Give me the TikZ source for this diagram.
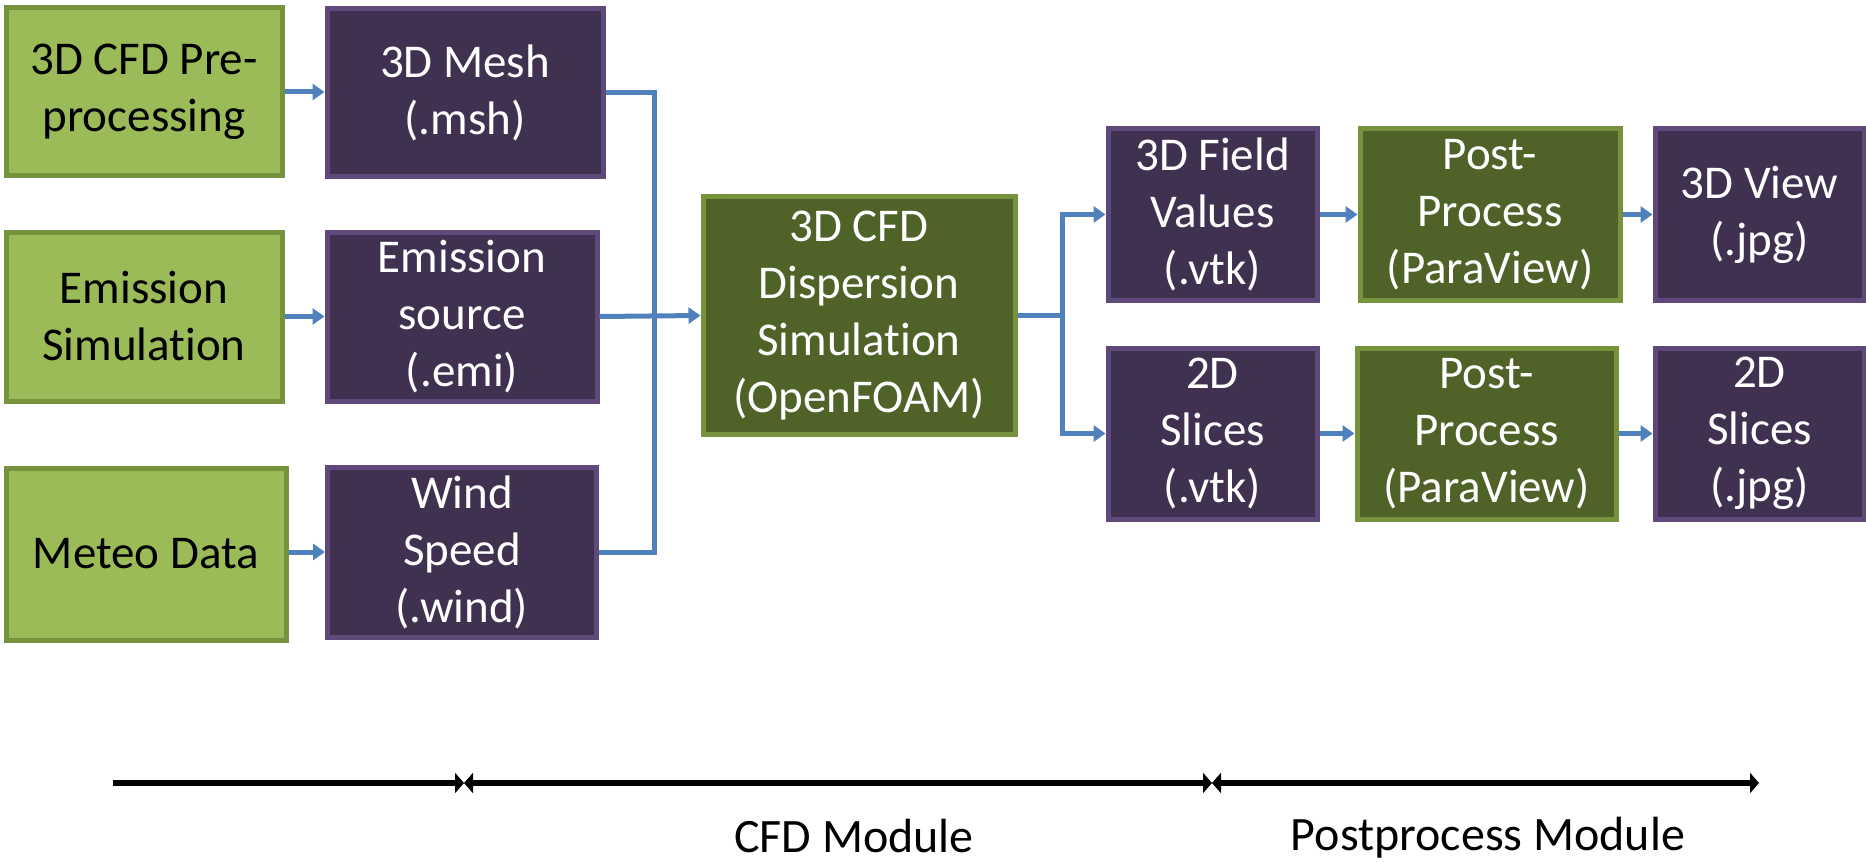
\documentclass[tikz,border=0pt]{standalone}
\usepackage{fontspec}
\setmainfont[Ligatures={NoCommon}]{Carlito}
\usetikzlibrary{arrows.meta}
\definecolor{lgfill}{HTML}{9BBB59}
\definecolor{lgdraw}{HTML}{76923C}
\definecolor{dgfill}{HTML}{4F6228}
\definecolor{dgdraw}{HTML}{76923C}
\definecolor{pufill}{HTML}{403151}
\definecolor{pudraw}{HTML}{5F497A}
\definecolor{flow}{HTML}{4F81BD}
\tikzset{
  box/.style={rectangle, line width=2.5pt, align=center, inner sep=0pt,
    font=\fontsize{23.5}{28.5}\selectfont},
  srcbox/.style={box, fill=lgfill, draw=lgdraw, text=black},
  procbox/.style={box, fill=dgfill, draw=dgdraw, text=white},
  filebox/.style={box, fill=pufill, draw=pudraw, text=white},
  flowline/.style={draw=flow, line width=2.5pt},
  flowarrow/.style={flowline, -{Triangle[length=6pt,width=8pt]}},
  timeline/.style={draw=black, line width=3pt},
  tltip/.tip={Triangle[length=4.5pt,width=10pt]},
  modlabel/.style={font=\fontsize{24}{29}\selectfont, text=black}
}
\begin{document}
\begin{tikzpicture}[x=0.5pt,y=-0.5pt]
\useasboundingbox (0,0) rectangle (1866,861);
% sources
\node[srcbox, minimum width=138pt, minimum height=84pt] (pre) at (144,92) {3D CFD Pre-\\processing};
\node[srcbox, minimum width=138pt, minimum height=84.5pt] (emsim) at (144,316.5) {Emission\\Simulation};
\node[srcbox, minimum width=140pt, minimum height=86pt] (meteo) at (146,554) {Meteo Data};
% files
\node[filebox, minimum width=138pt, minimum height=84pt] (mesh) at (465,93) {3D Mesh\\(.msh)};
\node[filebox, minimum width=135pt, minimum height=84.5pt] (emsrc) at (462,316.5) {Emission\\source\\(.emi)};
\node[filebox, minimum width=134.5pt, minimum height=85pt] (wind) at (462,552) {Wind\\Speed\\(.wind)};
% CFD
\node[procbox, minimum width=156pt, minimum height=118.5pt] (cfd) at (859,315.5) {3D CFD\\Dispersion\\Simulation\\(OpenFOAM)};
% outputs
\node[filebox, minimum width=104.5pt, minimum height=85.5pt] (field) at (1212.5,214.5) {3D Field\\Values\\(.vtk)};
\node[procbox, minimum width=130pt, minimum height=85.5pt] (posta) at (1490,214.5) {Post-\\Process\\(ParaView)};
\node[filebox, minimum width=104.5pt, minimum height=85.5pt] (view) at (1759.5,214.5) {3D View\\(.jpg)};
\node[filebox, minimum width=104.5pt, minimum height=85.5pt] (slice) at (1212.5,433.5) {2D\\Slices\\(.vtk)};
\node[procbox, minimum width=129.5pt, minimum height=85.5pt] (postb) at (1486.5,433.5) {Post-\\Process\\(ParaView)};
\node[filebox, minimum width=104.5pt, minimum height=85.5pt] (slicejpg) at (1759.5,433.5) {2D\\Slices\\(.jpg)};
% connectors
\draw[flowarrow] (pre.east) -- (mesh.west |- pre.east);
\draw[flowarrow] (emsim.east) -- (emsrc.west |- emsim.east);
\draw[flowarrow] (meteo.east |- wind.west) -- (wind.west);
\coordinate (join) at (654,316.5);
\draw[flowline] (mesh.east) -| (join) |- (wind.east);
\draw[flowarrow] (emsrc.east) -- (cfd.west);
\coordinate (split) at (1062,315.5);
\draw[flowline] (cfd.east) -- (split);
\draw[flowarrow] (split) |- (field.west);
\draw[flowarrow] (split) |- (slice.west);
\draw[flowarrow] (field.east) -- (posta.west);
\draw[flowarrow] (posta.east) -- (view.west);
\draw[flowarrow] (slice.east) -- (postb.west);
\draw[flowarrow] (postb.east) -- (slicejpg.west);
% timeline
\coordinate (t0) at (113,783);
\coordinate (t1) at (464,783);
\coordinate (t2) at (1212,783);
\coordinate (t3) at (1759,783);
\draw[timeline, -{tltip}] (t0) -- (t1);
\draw[timeline, {tltip}-{tltip}] (t1) -- (t2);
\draw[timeline, {tltip}-{tltip}] (t2) -- (t3);
\node[modlabel] (cfdmod) at (854,836) {CFD Module};
\node[modlabel] (postmod) at (1488,838) {Postprocess Module};
\end{tikzpicture}
\end{document}
